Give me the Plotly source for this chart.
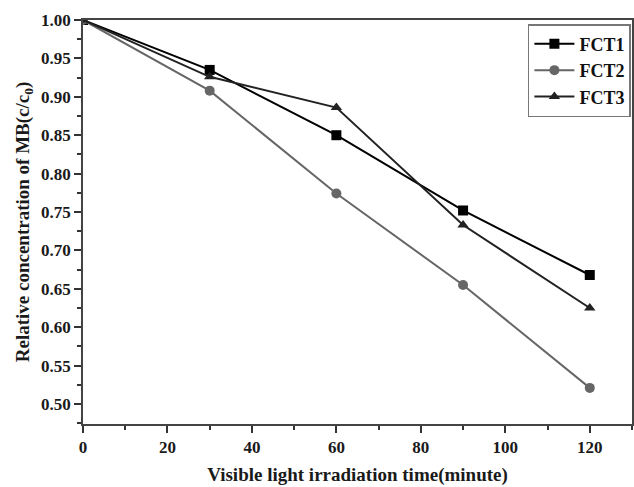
import plotly.graph_objects as go

time_min = [0, 30, 60, 90, 120]
fct1 = [1.0, 0.935, 0.850, 0.752, 0.668]
fct2 = [1.0, 0.908, 0.774, 0.655, 0.521]
fct3 = [1.0, 0.926, 0.886, 0.733, 0.625]

series = [
    ("FCT1", fct1, "#000000", "square"),
    ("FCT2", fct2, "#666666", "circle"),
    ("FCT3", fct3, "#222222", "triangle-up"),
]

fig = go.Figure()
for name, vals, col, sym in series:
    fig.add_trace(go.Scatter(
        x=time_min, y=vals, name="<b>" + name + "</b>", mode="lines+markers",
        line=dict(color=col, width=2),
        marker=dict(symbol=sym, size=10, color=col),
    ))

font_family = "Liberation Serif, Times New Roman, serif"
fig.update_layout(
    width=634, height=487,
    margin=dict(l=83, r=2, t=20, b=63, autoexpand=False),
    paper_bgcolor="white", plot_bgcolor="white",
    font=dict(family=font_family, color="#1a1a1a", size=15),
    showlegend=True,
    legend=dict(
        x=0.998, y=0.99, xanchor="right", yanchor="top",
        bordercolor="#777", borderwidth=1.5, bgcolor="white",
        font=dict(size=18, family=font_family, color="#111"),
        tracegroupgap=0, itemwidth=40,
    ),
    xaxis=dict(
        range=[0, 130], tickmode="array", tickvals=[0, 20, 40, 60, 80, 100, 120],
        ticks="outside", ticklen=7, tickwidth=1.5, tickcolor="#333",
        minor=dict(dtick=10, ticks="outside", ticklen=4, tickwidth=1.5, tickcolor="#333"),
        showline=True, linecolor="#444", linewidth=1.5, mirror=True,
        showgrid=False, zeroline=False, automargin=False,
        tickfont=dict(size=17, weight="bold"),
        title=dict(text="<b>Visible light irradiation time(minute)</b>", font=dict(size=19), standoff=12),
    ),
    yaxis=dict(
        range=[0.474, 1.0], tickmode="array",
        tickvals=[0.50, 0.55, 0.60, 0.65, 0.70, 0.75, 0.80, 0.85, 0.90, 0.95, 1.00],
        tickformat=".2f",
        ticks="outside", ticklen=7, tickwidth=1.5, tickcolor="#333",
        minor=dict(dtick=0.025, tick0=0.475, ticks="outside", ticklen=4, tickwidth=1.5, tickcolor="#333"),
        showline=True, linecolor="#444", linewidth=1.5, mirror=True,
        showgrid=False, zeroline=False, automargin=False,
        tickfont=dict(size=17, weight="bold"),
        title=dict(text="<b>Relative concentration of MB(c/c<sub>0</sub>)</b>", font=dict(size=19), standoff=6),
    ),
)

fig.write_html("out.html", config={"displayModeBar": False},
               post_script="document.body.style.margin='0';")
